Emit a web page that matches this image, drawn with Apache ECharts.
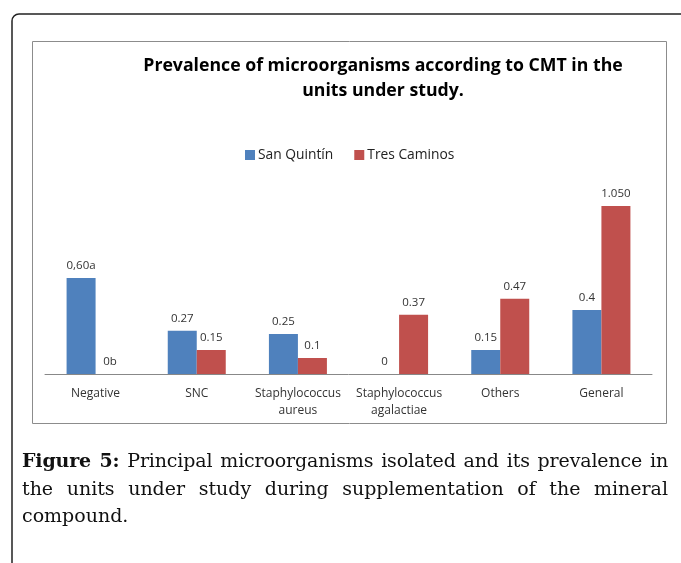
<!DOCTYPE html>
<html><head><meta charset="utf-8">
<script src="https://cdn.jsdelivr.net/npm/echarts@6/dist/echarts.min.js"></script>
<style>
html,body{margin:0;padding:0;background:#fff;}
#c{width:681px;height:563px;position:absolute;left:0;top:0;}
#cap{position:absolute;left:22px;top:447px;width:646px;font-family:"DejaVu Serif","Liberation Serif",serif;font-size:19px;line-height:27.5px;color:#111;}
#cap div{white-space:nowrap;}
#cap div.j{text-align:justify;text-align-last:justify;}
#cap div.t{letter-spacing:-0.15px;}
#cap b{font-weight:bold;}
</style></head>
<body>
<div id="c"></div>
<div id="cap"><div class="j t"><b>Figure 5:</b> Principal microorganisms isolated and its prevalence in</div><div class="j">the units under study during supplementation of the mineral</div><div>compound.</div></div>
<script>
const categories = ["Negative", "SNC", "Staphylococcus\naureus", "Staphylococcus\nagalactiae", "Others", "General"];
const sanQuintin = [0.60, 0.27, 0.25, 0, 0.15, 0.4];
const tresCaminos = [0, 0.15, 0.1, 0.37, 0.47, 1.05];
const sanQuintinLabels = ["0,60a", "0.27", "0.25", "0", "0.15", "0.4"];
const tresCaminosLabels = ["0b", "0.15", "0.1", "0.37", "0.47", "1.050"];

const font = "Open Sans";
const chart = echarts.init(document.getElementById('c'));
chart.setOption({
  animation: false,
  title: {
    text: "Prevalence of microorganisms according to CMT in the\nunits under study.",
    left: 378, top: 48, textAlign: 'center',
    textStyle: {fontFamily: font, fontWeight: 'bold', fontSize: 17.7, lineHeight: 25, color: '#000'}
  },
  legend: {
    data: ["San Quintín", "Tres Caminos"],
    left: 240, top: 143, itemWidth: 10, itemHeight: 10, itemGap: 21,
    icon: 'rect',
    textStyle: {fontFamily: font, fontSize: 13.8, color: '#222', padding: [0,0,0,-2]}
  },
  grid: {left: 45, right: 29, top: 182, bottom: 189},
  xAxis: {
    type: 'category', data: categories,
    axisLine: {lineStyle: {color: '#888', width: 1}},
    axisTick: {show: false},
    axisLabel: {fontFamily: font, fontSize: 12, color: '#333', margin: 11, lineHeight: 17, interval: 0}
  },
  yAxis: {type: 'value', min: 0, max: 1.2, show: false, splitLine: {show: false}},
  series: [
    {name: "San Quintín", type: 'bar', data: sanQuintin, barWidth: 29, barGap: '0%',
     itemStyle: {color: '#4F81BD'},
     label: {show: true, position: 'top', distance: 6, fontFamily: font, fontSize: 11.5, color: '#333',
       formatter: p => sanQuintinLabels[p.dataIndex]}},
    {name: "Tres Caminos", type: 'bar', data: tresCaminos, barWidth: 29,
     itemStyle: {color: '#C0504D'},
     label: {show: true, position: 'top', distance: 6, fontFamily: font, fontSize: 11.5, color: '#333',
       formatter: p => tresCaminosLabels[p.dataIndex]}}
  ],
  graphic: [
    {type: 'rect', shape: {x: 12, y: 14, width: 720, height: 600, r: 7}, style: {fill: null, stroke: '#222', lineWidth: 1.5}, z: 0},
    {type: 'rect', shape: {x: 32.5, y: 41.5, width: 634, height: 382}, style: {fill: null, stroke: '#8c8c8c', lineWidth: 1}, z: 0}
  ]
});
</script>
</body></html>
